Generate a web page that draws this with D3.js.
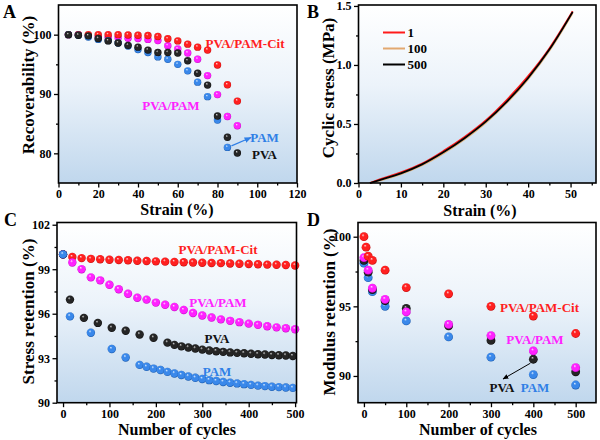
<!DOCTYPE html>
<html><head><meta charset="utf-8">
<script src="https://cdn.jsdelivr.net/npm/d3@7"></script>
<style>
body{margin:0;background:#fff}
svg{display:block}
text{font-family:"Liberation Serif","Times New Roman",serif;font-weight:bold}
</style>
</head><body>
<svg id="c" width="600" height="440"></svg>
<script>
// ---------- DATA ----------
// Panel A: recoverability vs strain
const strainA = [5,10,15,20,25,30,35,40,45,50,55,60,65,70,75,80,85,90];
const recCit  = [100,100,100,100,100,100,99.95,99.9,99.85,99.7,99.3,98.95,98.4,97.9,97.4,94.9,91.55,88.8];
const recPvaPam = [100,100,99.8,99.6,99.55,99.5,99.4,99.35,99.2,99.0,98.15,97.6,96.9,95.85,93.1,89.9,86.2,84.65];
const recPam  = [100,99.9,99.6,99.2,99.0,98.6,98.1,97.5,97.0,96.25,95.85,95.0,93.9,92.0,89.55,85.6,81.0];
const recPva  = [100,99.9,99.8,99.35,98.95,98.6,98.2,97.9,97.4,97.0,97.0,96.9,95.6,93.5,91.5,86.3,82.7,80.05];

// Panel B: cyclic stress-strain curves
const strainB = [2.7,5,10,15,20,25,30,35,40,45,50.5];
const cyc1   = [0,0.03,0.09,0.165,0.27,0.39,0.53,0.705,0.905,1.14,1.455];
const cyc100 = [0,0.02,0.075,0.15,0.25,0.37,0.51,0.68,0.88,1.12,1.44];
const cyc500 = [0,0.025,0.082,0.158,0.26,0.38,0.52,0.69,0.89,1.13,1.45];
const legendB = ["1","100","500"];

// Panel C: stress retention vs cycles
const cycCit = [0,20,40,60,80,100,120,140,160,180,200,220,240,260,280,300,320,340,360,380,400,420,440,460,480,500];
const stCit  = [100,99.82,99.75,99.7,99.67,99.64,99.62,99.6,99.57,99.55,99.53,99.51,99.49,99.47,99.45,99.44,99.42,99.41,99.39,99.37,99.35,99.33,99.31,99.3,99.28,99.25];
const cycPvaPam = [0,20,40,60,80,100,120,140,160,180,200,220,240,260,280,300,320,340,360,380,400,420,440,460,480,500];
const stPvaPam  = [100,99.45,99.0,98.45,98.25,97.95,97.65,97.35,97.08,96.95,96.75,96.6,96.45,96.25,96.05,95.88,95.74,95.62,95.52,95.43,95.33,95.25,95.15,95.08,95.02,94.95];
const cycPva = [0,15,45,75,105,135,165,195,225,240,255,270,285,300,315,330,345,360,375,390,405,420,435,450,465,480,495];
const stPva  = [100,96.95,95.72,95.38,95.05,94.85,94.6,94.38,94.05,93.9,93.8,93.72,93.65,93.58,93.52,93.47,93.43,93.39,93.36,93.33,93.3,93.27,93.25,93.22,93.2,93.18,93.15];
const cycPam = [0,15,60,105,135,165,180,195,210,225,240,255,270,285,300,315,330,345,360,375,390,405,420,435,450,465,480,495];
const stPam  = [100,95.82,94.72,93.62,93.05,92.55,92.42,92.3,92.2,92.08,91.97,91.87,91.77,91.68,91.6,91.52,91.46,91.4,91.35,91.3,91.25,91.2,91.15,91.12,91.08,91.05,91.02,91.0];

// Panel D: modulus retention vs cycles
const cycD5  = [0,5,10,20,50,100,200,300,400,500];
const cycD   = [0,10,20,50,100,200,300,400,500];
const modCit = [100,99.25,98.6,98.3,97.6,96.35,95.9,95.0,94.3,93.05];
const modPvaPam = [98.5,97.6,96.3,95.5,94.6,93.7,92.9,91.8,90.6];
const modPva = [98.3,97.45,96.2,95.4,94.85,93.6,92.55,91.2,90.3];
const modPam = [98.1,97.06,96.05,95.0,93.95,92.8,91.35,90.1,89.35];

const seriesNames = ["PVA/PAM-Cit","PVA/PAM","PVA","PAM"];
const colRed="#ff1f1f", colMag="#ff22ff", colBlue="#2f7fe6", colBlack="#111111";

// ---------- SETUP ----------
const svg = d3.select("#c");
const defs = svg.append("defs");
const bg = defs.append("linearGradient").attr("id","bg").attr("x1",0).attr("y1",0).attr("x2",0).attr("y2",1);
bg.append("stop").attr("offset","0%").attr("stop-color","#ffffff");
bg.append("stop").attr("offset","45%").attr("stop-color","#ecf3fa");
bg.append("stop").attr("offset","100%").attr("stop-color","#c0d7ed");

function sphere(id, hi, mid, dark){
  const g = defs.append("radialGradient").attr("id",id)
    .attr("cx","50%").attr("cy","50%").attr("r","55%").attr("fx","38%").attr("fy","30%");
  g.append("stop").attr("offset","0%").attr("stop-color",hi);
  g.append("stop").attr("offset","30%").attr("stop-color",mid);
  g.append("stop").attr("offset","75%").attr("stop-color",mid);
  g.append("stop").attr("offset","100%").attr("stop-color",dark);
}
sphere("gRed","#ffe0e0","#ff2020","#b00000");
sphere("gMag","#ffe0ff","#ff22ff","#b000b0");
sphere("gBlue","#e0f0ff","#3a88ea","#0c4a9a");
sphere("gBlack","#d8d8d8","#252525","#000000");

const mk = defs.append("marker").attr("id","arrB").attr("viewBox","0 0 10 10").attr("refX",9).attr("refY",5)
  .attr("markerWidth",6).attr("markerHeight",6).attr("orient","auto");
mk.append("path").attr("d","M0,1 L10,5 L0,9 z").attr("fill",colBlue);
const mk2 = defs.append("marker").attr("id","arrK").attr("viewBox","0 0 10 10").attr("refX",9).attr("refY",5)
  .attr("markerWidth",6).attr("markerHeight",6).attr("orient","auto");
mk2.append("path").attr("d","M0,1 L10,5 L0,9 z").attr("fill","#000");

function panel(cfg){
  const x = d3.scaleLinear().domain(cfg.xd).range(cfg.xr);
  const y = d3.scaleLinear().domain(cfg.yd).range(cfg.yr);
  const g = svg.append("g");
  g.append("rect").attr("x",cfg.xr[0]).attr("y",cfg.yr[1]).attr("width",cfg.xr[1]-cfg.xr[0])
    .attr("height",cfg.yr[0]-cfg.yr[1]).attr("fill","url(#bg)");
  const ax = (sel)=>{ sel.select(".domain").remove(); sel.selectAll("line").attr("stroke","#000").attr("stroke-width",1.3);
    sel.selectAll("text").attr("font-size","12px").attr("fill","#000").attr("font-family","Liberation Serif, serif").attr("font-weight","bold"); };
  g.append("g").attr("transform",`translate(0,${cfg.yr[0]})`)
    .call(d3.axisBottom(x).tickValues(cfg.xMinor).tickSize(2.5).tickFormat("")).call(ax);
  g.append("g").attr("transform",`translate(0,${cfg.yr[0]})`)
    .call(d3.axisBottom(x).tickValues(cfg.xTicks).tickSize(4.5).tickPadding(2).tickFormat(cfg.xFmt||d3.format("d"))).call(ax);
  g.append("g").attr("transform",`translate(${cfg.xr[0]},0)`)
    .call(d3.axisLeft(y).tickValues(cfg.yMinor).tickSize(2.5).tickFormat("")).call(ax);
  g.append("g").attr("transform",`translate(${cfg.xr[0]},0)`)
    .call(d3.axisLeft(y).tickValues(cfg.yTicks).tickSize(4.5).tickPadding(2.5).tickFormat(cfg.yFmt||d3.format("d"))).call(ax);
  const plot = g.append("g");
  g.append("rect").attr("x",cfg.xr[0]).attr("y",cfg.yr[1]).attr("width",cfg.xr[1]-cfg.xr[0])
    .attr("height",cfg.yr[0]-cfg.yr[1]).attr("fill","none").attr("stroke","#000").attr("stroke-width",1.6);
  g.append("text").attr("x",cfg.xl[0]).attr("y",cfg.xl[1]).attr("text-anchor","middle").attr("font-size","16px").text(cfg.xLabel);
  g.append("text").attr("transform",`translate(${cfg.yl[0]},${cfg.yl[1]}) rotate(-90)`).attr("text-anchor","middle")
    .attr("dominant-baseline","central").attr("font-size","17px").text(cfg.yLabel);
  g.append("text").attr("x",cfg.letter[1]).attr("y",cfg.letter[2]).attr("font-size","18px")
    .attr("font-family","Liberation Sans, Arial, sans-serif").attr("font-weight","bold").text(cfg.letter[0]);
  return {x,y,g,plot};
}
function dots(p, xs, ys, grad, r){
  p.plot.append("g").selectAll("circle").data(ys).join("circle")
    .attr("cx",(d,i)=>p.x(xs[i])).attr("cy",d=>p.y(d)).attr("r",r).attr("fill",`url(#${grad})`);
}
function label(p, txt, cx, cy, col){
  p.g.append("text").attr("x",cx).attr("y",cy).attr("text-anchor","middle").attr("dominant-baseline","central")
    .attr("font-size","13px").attr("fill",col).text(txt);
}

// ---------- PANEL A ----------
const A = panel({xd:[0,120], xr:[58.5,297], yd:[75,105], yr:[183,5],
  xTicks:d3.range(0,121,20), xMinor:d3.range(10,111,20), yTicks:[80,90,100], yMinor:[85,95],
  xLabel:"Strain (%)", xl:[177,215], yLabel:"Recoverability (%)", yl:[28,85], letter:["A",3,18]});
dots(A, strainA, recPvaPam, "gMag", 3.7);
dots(A, strainA, recCit, "gRed", 3.7);
dots(A, strainA, recPam, "gBlue", 3.7);
dots(A, strainA, recPva, "gBlack", 3.7);
label(A, seriesNames[0], 245, 43, colRed);
label(A, seriesNames[1], 171, 105, colMag);
label(A, seriesNames[3], 264.5, 137, colBlue);
label(A, seriesNames[2], 264.5, 154.5, colBlack);
A.g.append("line").attr("x1",A.x(85)+4).attr("y1",A.y(81)-1.5).attr("x2",251).attr("y2",137.5)
  .attr("stroke",colBlue).attr("stroke-width",1.2).attr("marker-end","url(#arrB)");

// ---------- PANEL B ----------
const B = panel({xd:[0,56], xr:[358.5,596], yd:[0,1.508], yr:[183,5],
  xTicks:d3.range(0,51,10), xMinor:d3.range(5,56,10), yTicks:[0,0.5,1,1.5], yMinor:[0.25,0.75,1.25],
  yFmt:d3.format(".1f"),
  xLabel:"Strain (%)", xl:[480,216], yLabel:"Cyclic stress (MPa)", yl:[328,88], letter:["B",307,18]});
const lineB = d3.line().x((d,i)=>B.x(strainB[i])).y(d=>B.y(d)).curve(d3.curveMonotoneX);
const bSeries = [[cyc100,"#e2b27c"],[cyc1,"#ff1a1a"],[cyc500,"#000"]];
bSeries.forEach(([s,c])=>B.plot.append("path").attr("d",lineB(s)).attr("fill","none").attr("stroke",c).attr("stroke-width",1.8));
const legCols = ["#ff1a1a","#e2a870","#000"];
legendB.forEach((t,i)=>{
  const yy = 32.5 + i*16;
  B.g.append("line").attr("x1",383).attr("x2",405).attr("y1",yy).attr("y2",yy).attr("stroke",legCols[i]).attr("stroke-width",2);
  B.g.append("text").attr("x",407.5).attr("y",yy).attr("dominant-baseline","central").attr("font-size","13px").text(t);
});

// ---------- PANEL C ----------
const C = panel({xd:[-13,503], xr:[57,296.5], yd:[90,102.15], yr:[402.7,222.5],
  xTicks:d3.range(0,501,100), xMinor:d3.range(50,451,100), yTicks:[90,93,96,99,102], yMinor:[91.5,94.5,97.5,100.5],
  xLabel:"Number of cycles", xl:[177,435], yLabel:"Stress retention (%)", yl:[28,311.5], letter:["C",4,226]});
dots(C, cycCit, stCit, "gRed", 4.2);
dots(C, cycPvaPam, stPvaPam, "gMag", 4.2);
dots(C, cycPva, stPva, "gBlack", 4.2);
dots(C, cycPam, stPam, "gBlue", 4.2);
label(C, seriesNames[0], 218, 249.5, colRed);
label(C, seriesNames[1], 218, 302, colMag);
label(C, seriesNames[2], 217, 338.5, colBlack);
label(C, seriesNames[3], 217, 371, colBlue);

// ---------- PANEL D ----------
const D = panel({xd:[-14,548], xr:[358,596], yd:[88.08,101.02], yr:[402.7,222.5],
  xTicks:d3.range(0,501,100), xMinor:d3.range(50,451,100), yTicks:[90,95,100], yMinor:[92.5,97.5],
  xLabel:"Number of cycles", xl:[478,435], yLabel:"Modulus retention (%)", yl:[329,312], letter:["D",307,226]});
dots(D, cycD, modPam, "gBlue", 4.4);
dots(D, cycD, modPva, "gBlack", 4.4);
dots(D, cycD, modPvaPam, "gMag", 4.4);
dots(D, cycD5, modCit, "gRed", 4.4);
label(D, seriesNames[0], 539.5, 307, colRed);
label(D, seriesNames[1], 535, 339.5, colMag);
label(D, seriesNames[2], 502, 387, colBlack);
label(D, seriesNames[3], 535, 387, colBlue);
D.g.append("line").attr("x1",D.x(400)-3).attr("y1",D.y(91.2)+4).attr("x2",503).attr("y2",379)
  .attr("stroke","#000").attr("stroke-width",1).attr("marker-end","url(#arrK)");
</script>
</body></html>
